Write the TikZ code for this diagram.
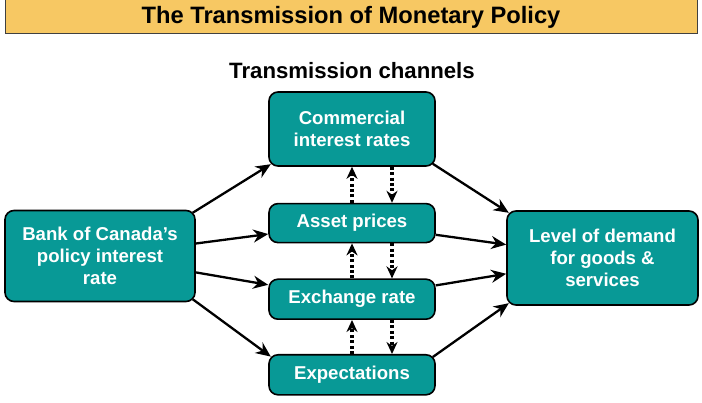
\documentclass[tikz,border=0pt]{standalone}
\usepackage{fontspec}
\setmainfont{Liberation Sans}
\usetikzlibrary{positioning,arrows.meta}
\definecolor{chanteal}{RGB}{8,153,150}
\definecolor{titlegold}{RGB}{247,200,99}

\begin{document}
\begin{tikzpicture}[x=1pt,y=1pt,
    box/.style={draw=black,line width=1.6pt,fill=chanteal,rounded corners=9pt,
      text=white,font=\fontsize{18.6}{22}\selectfont\bfseries,align=center,
      minimum width=166pt,inner sep=0pt},
    flow/.style={-{Stealth[length=15pt,width=13pt]},line width=2.3pt},
    feedback/.style={-{Stealth[length=12pt,width=11pt]},line width=3.3pt,
      dash pattern=on 3pt off 2.4pt}]
            \useasboundingbox (0,0) rectangle (702,402);
            \node[draw=black!75,line width=1pt,fill=titlegold,minimum width=692pt,
              minimum height=34pt,font=\fontsize{23.7}{28}\selectfont\bfseries] (title) at (351,385)
              {The Transmission of Monetary Policy};
            \node[box,minimum height=74pt] (comm) at (352,273) {Commercial\\interest rates};
            \node[box,minimum height=39pt,below=36pt of comm] (asset) {Asset prices};
            \node[box,minimum height=40pt,below=35pt of asset] (exch) {Exchange rate};
            \node[box,minimum height=40pt,below=34pt of exch] (expect) {Expectations};
            \node[above=8.5pt of comm,font=\fontsize{22.2}{26}\selectfont\bfseries] (chanlabel) {Transmission channels};
            \node[box,minimum width=190pt,minimum height=91pt] (bank) at (100,146)
              {Bank of Canada’s\\policy interest\\rate};
            \node[box,minimum width=191pt,minimum height=94pt] (demand) at (602.5,144)
              {Level of demand\\for goods \&\\services};
            \draw[flow] ([shift={(-3pt,-3pt)}]bank.north east) -- ([shift={(2.6pt,2.6pt)}]comm.south west);
            \draw[flow] ([shift={(-3pt,3pt)}]bank.south east) -- ([shift={(2.6pt,-2.6pt)}]expect.north west);
            \draw[flow] ([shift={(-3pt,3pt)}]comm.south east) -- ([shift={(2.6pt,-2.6pt)}]demand.north west);
            \draw[flow] ([shift={(-3pt,-3pt)}]expect.north east) -- ([shift={(2.6pt,2.6pt)}]demand.south west);
            \foreach \chan in {asset,exch}{
                \draw[flow] (bank) -- (\chan);
                \draw[flow] (\chan) -- (demand);
            }
            \foreach \lo/\hi in {asset/comm,exch/asset,expect/exch}{
                \draw[feedback] (\lo.north) -- (\hi.south);
                \draw[feedback] ([xshift=40pt]\hi.south) -- ([xshift=40pt]\lo.north);
            }
\end{tikzpicture}
\end{document}
